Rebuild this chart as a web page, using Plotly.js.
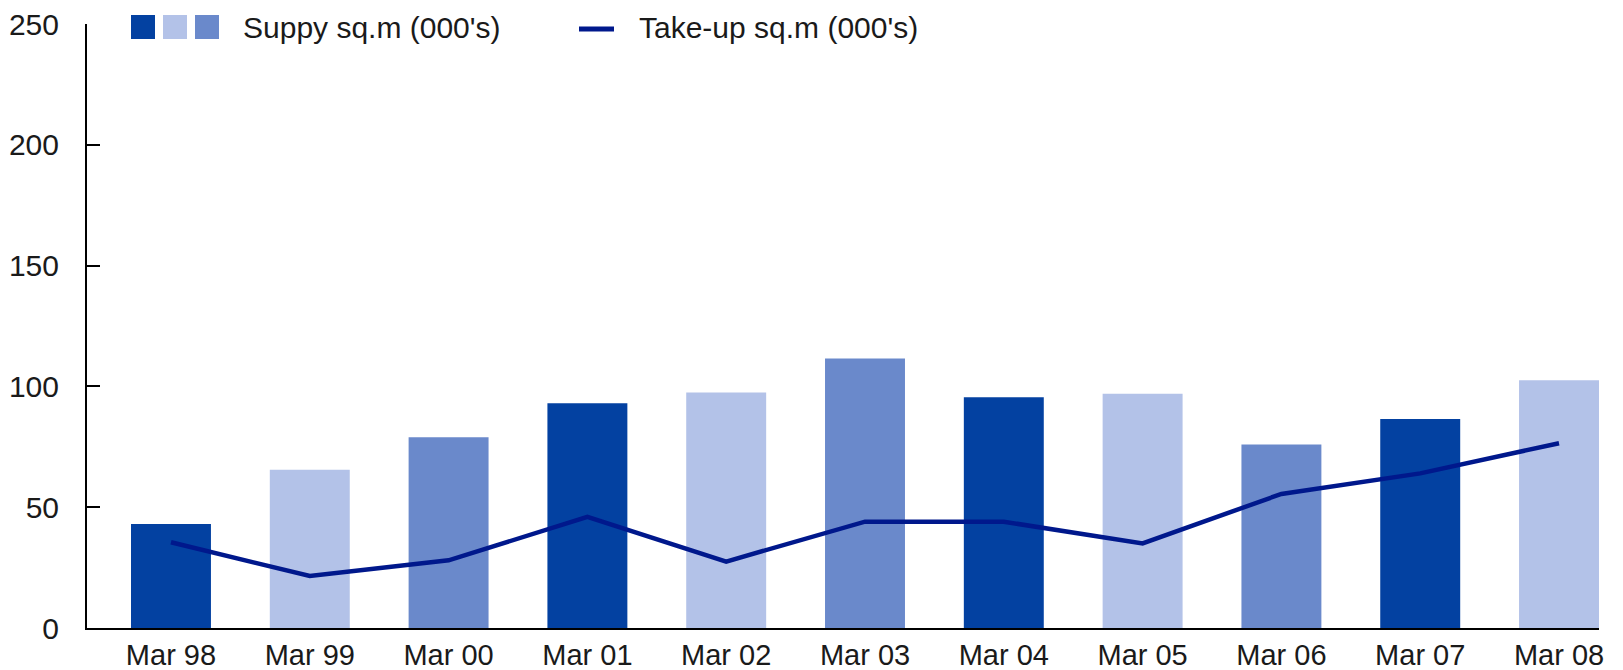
<!DOCTYPE html>
<html>
<head>
<meta charset="utf-8">
<script src="https://cdn.plot.ly/plotly-3.0.1.min.js"></script>
<style>html,body{margin:0;padding:0;background:#fff;}#chart{width:1623px;height:670px;}</style>
</head>
<body>
<div id="chart"></div>
<script>
const categories = ["Mar 98","Mar 99","Mar 00","Mar 01","Mar 02","Mar 03","Mar 04","Mar 05","Mar 06","Mar 07","Mar 08"];
const supply = [43, 65.5, 79, 93, 97.5, 111.5, 95.5, 97, 76, 86.5, 102.5];
const takeUp = [35.5, 21.5, 28, 46, 27.5, 44, 44, 35, 55.5, 64, 76.5];
const yTicks = [0, 50, 100, 150, 200, 250];
const supplyName = "Suppy sq.m (000's)";
const takeUpName = "Take-up sq.m (000's)";

const DARK = "#0341a1", LIGHT = "#b3c2e8", MEDIUM = "#6a89cb", LINE = "#00188c";
const palette = [DARK, LIGHT, MEDIUM];
const barColors = categories.map((c, i) => palette[i % 3]);
const xIdx = categories.map((c, i) => i);
const FONT = "Liberation Sans, Arial, sans-serif";

const traces = [
  {type: "bar", x: xIdx, y: supply, name: supplyName, width: 0.576,
   marker: {color: barColors, line: {width: 0}}, showlegend: false, hoverinfo: "x+y"},
  {type: "scatter", mode: "lines", x: xIdx, y: takeUp, name: takeUpName,
   line: {color: LINE, width: 4.5}, showlegend: false}
];

const shapes = palette.map((col, i) => ({
  type: "rect", xref: "paper", yref: "paper", xsizemode: "pixel", ysizemode: "pixel",
  xanchor: 0, yanchor: 1, x0: 44 + i * 32, x1: 68 + i * 32, y0: -15, y1: 9,
  fillcolor: col, line: {width: 0}
}));
shapes.push({type: "line", xref: "paper", yref: "paper", xsizemode: "pixel", ysizemode: "pixel",
  xanchor: 0, yanchor: 1, x0: 492, x1: 527, y0: -5, y1: -5, line: {color: LINE, width: 5}});

const layout = {
  width: 1623, height: 670,
  margin: {l: 87, r: 24, t: 24, b: 42, pad: 0},
  paper_bgcolor: "#fff", plot_bgcolor: "#fff",
  font: {family: FONT, size: 30, color: "#1a1a1a"},
  showlegend: false,
  xaxis: {range: [-0.605, 10.288], tickmode: "array", tickvals: xIdx, ticktext: categories,
    showline: true, linecolor: "#000", linewidth: 2, ticks: "", showgrid: false, zeroline: false,
    tickfont: {family: FONT, size: 29, color: "#1a1a1a"}},
  yaxis: {range: [0, 250], tickmode: "array", tickvals: yTicks, ticktext: yTicks.map(String),
    showline: true, linecolor: "#000", linewidth: 2, ticks: "inside", ticklen: 13, tickwidth: 2,
    tickcolor: "#000", showgrid: false, zeroline: false, ticklabelstandoff: 20,
    tickfont: {family: FONT, size: 30, color: "#1a1a1a"}},
  shapes: shapes,
  annotations: [
    {xref: "paper", yref: "paper", x: (241 - 87) / 1512, y: (628 - 27.5) / 604, xanchor: "left", yanchor: "middle",
     text: supplyName, showarrow: false, font: {family: FONT, size: 30, color: "#1a1a1a"}},
    {xref: "paper", yref: "paper", x: (637 - 87) / 1512, y: (628 - 27.5) / 604, xanchor: "left", yanchor: "middle",
     text: takeUpName, showarrow: false, font: {family: FONT, size: 30, color: "#1a1a1a"}}
  ]
};

Plotly.newPlot("chart", traces, layout, {displayModeBar: false, staticPlot: true});
</script>
</body>
</html>
